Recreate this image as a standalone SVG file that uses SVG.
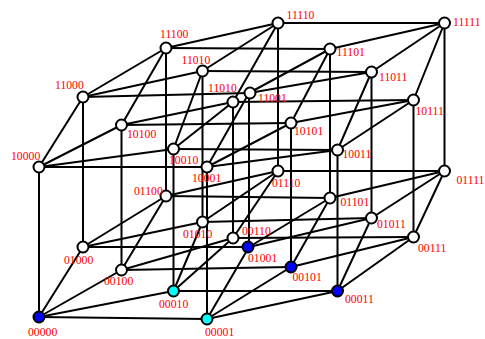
<svg xmlns="http://www.w3.org/2000/svg" width="485" height="339" viewBox="0 0 485 339">
<style>
.e{stroke:#000;stroke-width:2;fill:none}
.n{stroke:#000;stroke-width:2;fill:#fff}
.b{fill:#0000ff}
.c{fill:#00ffff}
.t{font-family:"Liberation Serif","Times New Roman",serif;font-size:11.7px;fill:#ff0000}
</style>
<rect width="485" height="339" fill="#fff"/>
<g id="connectors" class="e">
<path d="M39,317L207,319M173.5,291L337.5,291M121.5,270L291,267M233,238L413.5,237M83,247L249,247M202.5,222L371.5,218M166,196L330,198M278,171L444.5,171M39,167L207,167M173.5,149L337.5,150M121.5,125L291,123M233,102L413.5,100M83,97L249,93M202.5,71L371.5,72M166,48L330,49M278,23L444.5,23"/>
<path d="M39,317L173.5,291M207,319L337.5,291M121.5,270L233,238M291,267L413.5,237M83,247L202.5,222M249,247L371.5,218M166,196L278,171M330,198L444.5,171M39,167L173.5,149M207,167L337.5,150M121.5,125L233,102M291,123L413.5,100M83,97L202.5,71M249,93L371.5,72M166,48L278,23M330,49L444.5,23"/>
<path d="M39,317L121.5,270M207,319L291,267M173.5,291L233,238M337.5,291L413.5,237M83,247L166,196M249,247L330,198M202.5,222L278,171M371.5,218L444.5,171M39,167L121.5,125M207,167L291,123M173.5,149L233,102M337.5,150L413.5,100M83,97L166,48M249,93L330,49M202.5,71L278,23M371.5,72L444.5,23"/>
<path d="M39,317L83,247M207,319L249,247M173.5,291L202.5,222M337.5,291L371.5,218M121.5,270L166,196M291,267L330,198M233,238L278,171M413.5,237L444.5,171M39,167L83,97M207,167L249,93M173.5,149L202.5,71M337.5,150L371.5,72M121.5,125L166,48M291,123L330,49M233,102L278,23M413.5,100L444.5,23"/>
<path d="M39,317V167M207,319V167M173.5,291V149M337.5,291V150M121.5,270V125M291,267V123M233,238V102M413.5,237V100M83,247V97M249,247V93M202.5,222V71M371.5,218V72M166,196V48M330,198V49M278,171V23M444.5,171V23"/>
</g>
<g id="n00000"><circle class="n b" cx="39" cy="317" r="5.5"/><text class="t" x="28" y="336">00000</text></g>
<g id="n00001"><circle class="n c" cx="207" cy="319" r="5.5"/><text class="t" x="205" y="335.5">00001</text></g>
<g id="n00010"><circle class="n c" cx="173.5" cy="291" r="5.5"/><text class="t" x="159" y="308">00010</text></g>
<g id="n00011"><circle class="n b" cx="337.5" cy="291" r="5.5"/><text class="t" x="345" y="303">00011</text></g>
<g id="n00100"><circle class="n" cx="121.5" cy="270" r="5.5"/><text class="t" x="104" y="285">00100</text></g>
<g id="n00101"><circle class="n b" cx="291" cy="267" r="5.5"/><text class="t" x="292.5" y="281">00101</text></g>
<g id="n00110"><circle class="n" cx="233" cy="238" r="5.5"/><text class="t" x="242" y="235">00110</text></g>
<g id="n00111"><circle class="n" cx="413.5" cy="237" r="5.5"/><text class="t" x="418" y="251.5">00111</text></g>
<g id="n01000"><circle class="n" cx="83" cy="247" r="5.5"/><text class="t" x="64" y="264">01000</text></g>
<g id="n01001"><circle class="n b" cx="248" cy="247" r="5.5"/><text class="t" x="248" y="261.5">01001</text></g>
<g id="n01010"><circle class="n" cx="202.5" cy="222" r="5.5"/><text class="t" x="183" y="237.5">01010</text></g>
<g id="n01011"><circle class="n" cx="371.5" cy="218" r="5.5"/><text class="t" x="377" y="227.5">01011</text></g>
<g id="n01100"><circle class="n" cx="166" cy="196" r="5.5"/><text class="t" x="134" y="195">01100</text></g>
<g id="n01101"><circle class="n" cx="330" cy="198" r="5.5"/><text class="t" x="340.5" y="205.5">01101</text></g>
<g id="n01110"><circle class="n" cx="278" cy="171" r="5.5"/><text class="t" x="272" y="186.5">01110</text></g>
<g id="n01111"><circle class="n" cx="444.5" cy="171" r="5.5"/><text class="t" x="456.5" y="183.5">01111</text></g>
<g id="n10000"><circle class="n" cx="39" cy="167" r="5.5"/><text class="t" x="11" y="159.5">10000</text></g>
<g id="n10001"><circle class="n" cx="207" cy="167" r="5.5"/><text class="t" x="192" y="182">10001</text></g>
<g id="n10010"><circle class="n" cx="173.5" cy="149" r="5.5"/><text class="t" x="169" y="164">10010</text></g>
<g id="n10011"><circle class="n" cx="337.5" cy="150" r="5.5"/><text class="t" x="342.5" y="157.5">10011</text></g>
<g id="n10100"><circle class="n" cx="121.5" cy="125" r="5.5"/><text class="t" x="127" y="137.5">10100</text></g>
<g id="n10101"><circle class="n" cx="291" cy="123" r="5.5"/><text class="t" x="294" y="134.5">10101</text></g>
<g id="n10110"><circle class="n" cx="233" cy="102" r="5.5"/><text class="t" x="208" y="92">11010</text></g>
<g id="n10111"><circle class="n" cx="413.5" cy="100" r="5.5"/><text class="t" x="415.5" y="114.5">10111</text></g>
<g id="n11000"><circle class="n" cx="83" cy="97" r="5.5"/><text class="t" x="55" y="89">11000</text></g>
<g id="n11001"><circle class="n" cx="250" cy="93" r="5.5"/><text class="t" x="258" y="101.5">11001</text></g>
<g id="n11010"><circle class="n" cx="202.5" cy="71" r="5.5"/><text class="t" x="181.5" y="64">11010</text></g>
<g id="n11011"><circle class="n" cx="371.5" cy="72" r="5.5"/><text class="t" x="379" y="81">11011</text></g>
<g id="n11100"><circle class="n" cx="166" cy="48" r="5.5"/><text class="t" x="160" y="37.5">11100</text></g>
<g id="n11101"><circle class="n" cx="330" cy="49" r="5.5"/><text class="t" x="336.5" y="55.5">11101</text></g>
<g id="n11110"><circle class="n" cx="278" cy="23" r="5.5"/><text class="t" x="286.5" y="18.5">11110</text></g>
<g id="n11111"><circle class="n" cx="444.5" cy="23" r="5.5"/><text class="t" x="453" y="26">11111</text></g>
</svg>
